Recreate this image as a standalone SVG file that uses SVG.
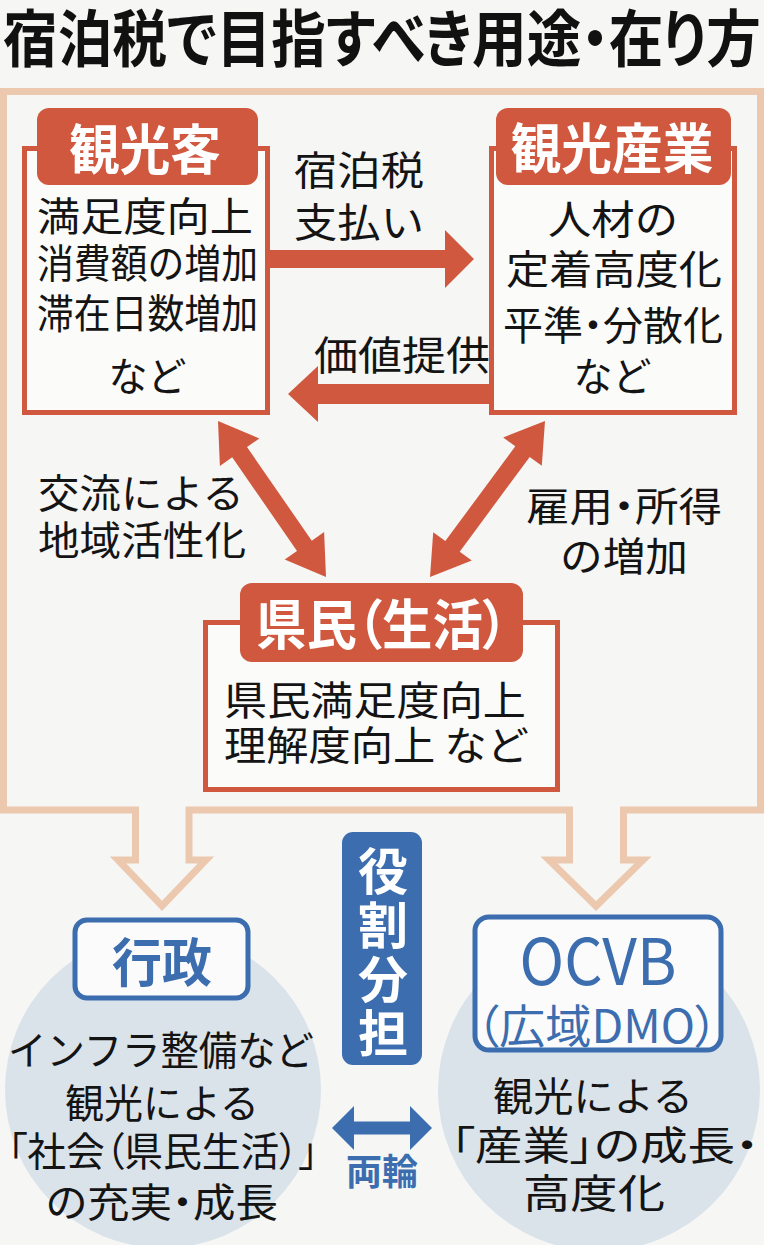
<svg xmlns="http://www.w3.org/2000/svg" width="764" height="1245" viewBox="0 0 764 1245">
<style>
text{font-family:"Noto Sans CJK JP","Noto Sans CJK SC",sans-serif;text-anchor:middle}
.t{fill:#141414;font-size:40px}
.p{font-feature-settings:"palt"}
.hd{fill:#ffffff;font-size:54px;font-weight:700}
.red{fill:#d0583f}
.ol{fill:#fbfbfa;stroke:#d0583f;stroke-width:5}
.blue{fill:#3b6daf}
.bbox{fill:#fbfbfb;stroke:#3b6daf;stroke-width:5}
.circ{fill:#dae3ea}
</style>
<rect x="0" y="0" width="764" height="1245" fill="#f6f6f4"/>
<text id="title" x="382" y="62" font-size="62" font-weight="700" fill="#111" textLength="758" lengthAdjust="spacingAndGlyphs" class="p">宿泊税で目指すべき用途・在り方</text>
<g id="frame">
<path d="M3.5,91.5 H760.5 V810 H623.5 V860 H643 L596,906 L549,860 H569.5 V810 H189 V860 H206 L162,906 L118,860 H135.5 V810 H3.5 Z" fill="none" stroke="#ebc8ae" stroke-width="7" stroke-miterlimit="10"/>
</g>
<g id="node-kankokyaku">
<rect class="ol" x="24.5" y="148.5" width="243" height="264"/>
<rect class="red" x="37" y="108" width="221" height="77" rx="12"/>
<text class="hd" x="145" y="170" textLength="152" lengthAdjust="spacingAndGlyphs">観光客</text>
<text class="t" x="145" y="231" textLength="216" lengthAdjust="spacingAndGlyphs">満足度向上</text>
<text class="t" x="147.5" y="278" textLength="221" lengthAdjust="spacingAndGlyphs">消費額の増加</text>
<text class="t" x="147.5" y="328" textLength="221" lengthAdjust="spacingAndGlyphs">滞在日数増加</text>
<text class="t" x="147.5" y="391" textLength="78" lengthAdjust="spacingAndGlyphs">など</text>
</g>
<g id="node-sangyo">
<rect class="ol" x="491.5" y="148.5" width="243" height="264"/>
<rect class="red" x="496" y="108" width="235" height="77" rx="12"/>
<text class="hd" x="612" y="169" textLength="203" lengthAdjust="spacingAndGlyphs">観光産業</text>
<text class="t" x="613" y="234" textLength="130" lengthAdjust="spacingAndGlyphs">人材の</text>
<text class="t" x="614" y="284" textLength="216" lengthAdjust="spacingAndGlyphs">定着高度化</text>
<text class="t p" x="613" y="340" textLength="220" lengthAdjust="spacingAndGlyphs">平準・分散化</text>
<text class="t" x="612.5" y="391" textLength="78" lengthAdjust="spacingAndGlyphs">など</text>
</g>
<g id="node-kenmin">
<rect class="ol" x="205.5" y="622.5" width="352" height="167"/>
<rect class="red" x="240" y="583" width="283" height="79" rx="12"/>
<text class="hd p" x="382" y="645" textLength="252" lengthAdjust="spacingAndGlyphs">県民（生活）</text>
<text class="t" x="375" y="715" textLength="302" lengthAdjust="spacingAndGlyphs">県民満足度向上</text>
<text class="t" x="376.5" y="760" textLength="305" lengthAdjust="spacingAndGlyphs">理解度向上 など</text>
</g>
<g id="node-gyosei">
<circle class="circ" cx="163" cy="1090" r="158"/>
<rect class="bbox" x="75" y="920" width="173" height="78" rx="12"/>
<text x="162" y="982" font-size="52" font-weight="700" fill="#3b6daf" textLength="100" lengthAdjust="spacingAndGlyphs">行政</text>
<text class="t" x="161" y="1065" textLength="306" lengthAdjust="spacingAndGlyphs">インフラ整備など</text>
<text class="t" x="162" y="1118" textLength="194" lengthAdjust="spacingAndGlyphs">観光による</text>
<text class="t p" x="163" y="1166" textLength="310" lengthAdjust="spacingAndGlyphs">「社会（県民生活）」</text>
<text class="t p" x="162" y="1217" textLength="232" lengthAdjust="spacingAndGlyphs">の充実・成長</text>
</g>
<g id="node-ocvb">
<circle class="circ" cx="599" cy="1090" r="161"/>
<rect class="bbox" x="475" y="917" width="246" height="133" rx="14"/>
<text x="598" y="985" font-size="64" font-weight="400" fill="#3b6daf" textLength="157" lengthAdjust="spacingAndGlyphs">OCVB</text>
<text class="p" x="597" y="1043" font-size="46" font-weight="400" fill="#3b6daf" textLength="242" lengthAdjust="spacingAndGlyphs">（広域DMO）</text>
<text class="t" x="593" y="1111" textLength="200" lengthAdjust="spacingAndGlyphs">観光による</text>
<text class="t p" x="605" y="1160" textLength="308" lengthAdjust="spacingAndGlyphs">「産業」の成長・</text>
<text class="t" x="594" y="1208" textLength="142" lengthAdjust="spacingAndGlyphs">高度化</text>
</g>
<g id="node-yakuwari">
<rect class="blue" x="342" y="832" width="80" height="233" rx="11"/>
<text x="383" y="846" writing-mode="vertical-rl" font-size="50" font-weight="700" fill="#ffffff" letter-spacing="4" style="text-anchor:start">役割分担</text>
</g>
<g id="connectors">
<polygon class="red" points="268,250 445,250 445,230 474,259 445,288 445,268 268,268"/>
<polygon class="red" points="491,384 318,384 318,366 288,394 318,422 318,404 491,404"/>
<polygon class="red" points="218,421 259.3,438.5 247,447.1 311.8,540.7 324.1,532.1 326,577 284.7,559.5 297,550.9 232.2,457.3 219.9,465.9"/>
<polygon class="red" points="545,421 503.2,437.4 515.3,446.3 445.3,541.1 433.2,532.2 430,577 471.8,560.6 459.7,551.7 529.7,456.9 541.8,465.8"/>
<polygon class="blue" points="332,1128 354,1106 354,1121.5 410,1121.5 410,1106 432,1128 410,1150 410,1134.5 354,1134.5 354,1150"/>
<text class="t" x="359" y="185" textLength="130" lengthAdjust="spacingAndGlyphs">宿泊税</text>
<text class="t" x="359" y="237" textLength="130" lengthAdjust="spacingAndGlyphs">支払い</text>
<text class="t" x="402" y="370" textLength="176" lengthAdjust="spacingAndGlyphs">価値提供</text>
<text class="t" x="141" y="508" textLength="206" lengthAdjust="spacingAndGlyphs">交流による</text>
<text class="t" x="142" y="555" textLength="208" lengthAdjust="spacingAndGlyphs">地域活性化</text>
<text class="t p" x="624" y="521" textLength="196" lengthAdjust="spacingAndGlyphs">雇用・所得</text>
<text class="t" x="624" y="571" textLength="128" lengthAdjust="spacingAndGlyphs">の増加</text>
<text x="382" y="1185" font-size="36" font-weight="700" fill="#3b6daf" textLength="72" lengthAdjust="spacingAndGlyphs">両輪</text>
</g>
</svg>
